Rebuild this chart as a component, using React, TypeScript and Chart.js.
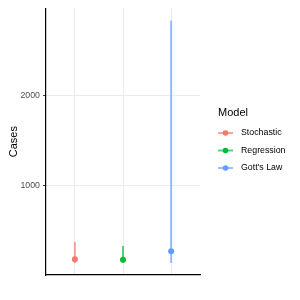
import React, { useEffect, useRef } from "react";
import { Chart, registerables } from "chart.js";

Chart.register(...registerables);

const models = ["Stochastic", "Regression", "Gott's Law"];
const estimates = [183, 179, 271];
const lower = [143, 146, 143];
const upper = [374, 330, 2832];
const colors = ["#F8766D", "#00BA38", "#619CFF"];
const lineColors = ["rgba(248,118,109,0.65)", "rgba(0,186,56,0.65)", "rgba(97,156,255,0.65)"];
const yTicks = [1000, 2000];
const legendTitle = "Model";
const yTitle = "Cases";

const FONT = "'Liberation Sans', Arial, sans-serif";

export default function App() {
  const ref = useRef<HTMLCanvasElement | null>(null);
  useEffect(() => {
    document.body.style.margin = "0";
    const lo = Math.min(...lower);
    const hi = Math.max(...upper);
    const span = hi - lo;
    const legendPlugin = {
      id: "ggLegend",
      afterDraw(chart: any) {
        const ctx = chart.ctx;
        ctx.save();
        ctx.fillStyle = "#000";
        ctx.font = `11px ${FONT}`;
        ctx.textBaseline = "middle";
        ctx.textAlign = "left";
        ctx.fillText(legendTitle, 218, 113);
        models.forEach((m, i) => {
          const y = 133 + i * 17.5;
          ctx.strokeStyle = lineColors[i];
          ctx.lineWidth = 2;
          ctx.beginPath();
          ctx.moveTo(218, y);
          ctx.lineTo(233, y);
          ctx.stroke();
          ctx.fillStyle = colors[i];
          ctx.beginPath();
          ctx.arc(225.5, y, 2.8, 0, Math.PI * 2);
          ctx.fill();
          ctx.fillStyle = "#000";
          ctx.font = `8.8px ${FONT}`;
          ctx.fillText(m, 241, y);
        });
        ctx.restore();
      },
    };
    const pointSets = models.map((m, i) => ({
      type: "scatter" as const,
      label: m,
      data: [{ x: i + 1, y: estimates[i] }],
      backgroundColor: colors[i],
      borderWidth: 0,
      pointRadius: 3,
    }));
    const lineSets = models.map((m, i) => ({
      type: "line" as const,
      label: m + " range",
      data: [
        { x: i + 1, y: lower[i] },
        { x: i + 1, y: upper[i] },
      ],
      borderColor: lineColors[i],
      borderWidth: 2,
      pointRadius: 0,
      showLine: true,
      fill: false,
    }));
    const chart = new Chart(ref.current!, {
      type: "scatter",
      data: { datasets: [...pointSets, ...lineSets] as any },
      options: {
        animation: false,
        responsive: false,
        layout: { padding: { left: 0, top: 6, right: 100, bottom: 0 } },
        plugins: { legend: { display: false }, tooltip: { enabled: false } },
        scales: {
          x: {
            type: "linear",
            min: 0.4,
            max: 3.6,
            afterBuildTicks: (s: any) => {
              s.ticks = models.map((_, i) => ({ value: i + 1 }));
            },
            afterFit: (s: any) => {
              s.height = 25;
            },
            ticks: { display: false },
            grid: { color: "#EBEBEB", lineWidth: 1, drawTicks: false },
            border: { display: true, color: "#000", width: 1.2 },
          },
          y: {
            type: "linear",
            min: lo - span * 0.05,
            max: hi + span * 0.05,
            afterBuildTicks: (s: any) => {
              s.ticks = yTicks.map((v) => ({ value: v }));
            },
            afterFit: (s: any) => {
              s.width = 46;
            },
            ticks: {
              color: "#4D4D4D",
              font: { family: FONT, size: 8.8 },
              padding: 3,
              callback: (v: any) => String(v),
            },
            grid: { color: "#EBEBEB", lineWidth: 1, tickLength: 3, tickColor: "#333333" },
            border: { display: true, color: "#000", width: 1.2 },
            title: {
              display: true,
              text: yTitle,
              color: "#000",
              font: { family: FONT, size: 11 },
              padding: { top: 7, bottom: 0 },
            },
          },
        },
      },
      plugins: [legendPlugin],
    });
    return () => chart.destroy();
  }, []);
  return (
    <div style={{ position: "absolute", left: 0, top: 0, width: 300, height: 300 }}>
      <canvas ref={ref} width={300} height={300} style={{ width: 300, height: 300 }} />
    </div>
  );
}
